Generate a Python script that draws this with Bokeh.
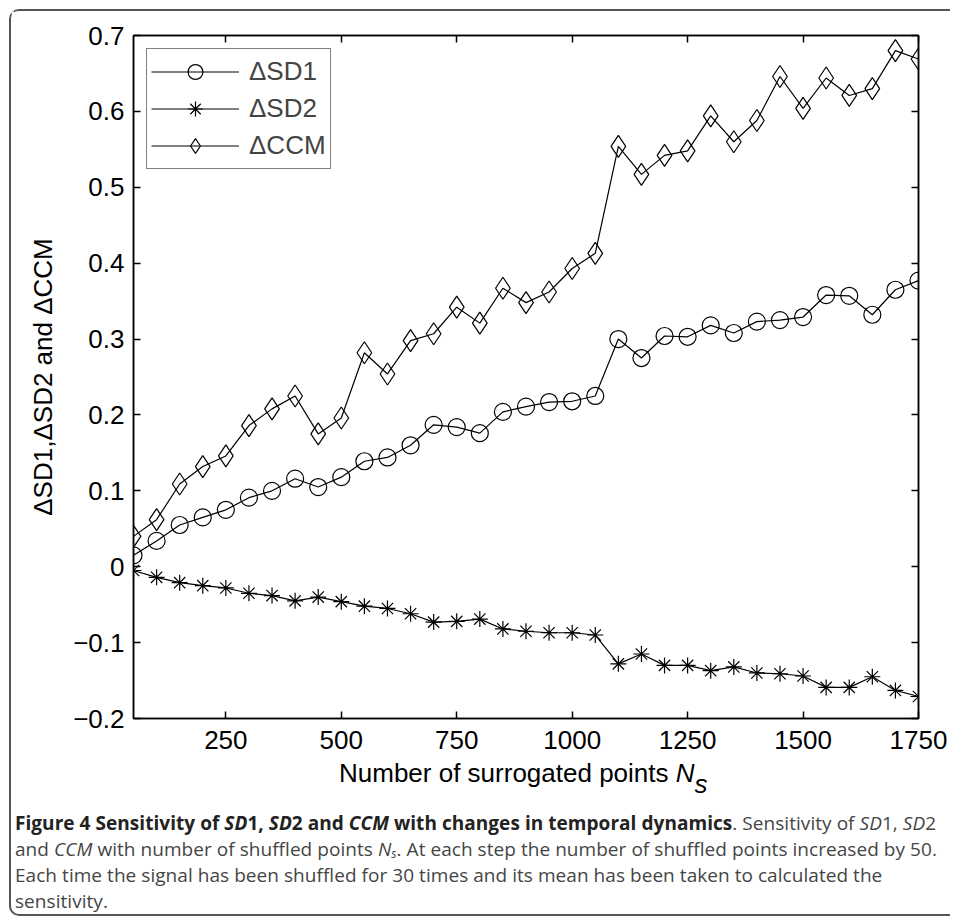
from bokeh.plotting import figure
from bokeh.models import (LinearAxis, FixedTicker, Range1d, Legend, LegendItem,
                          Div, CustomJSTickFormatter)
from bokeh.layouts import column
from bokeh.embed import file_html
from bokeh.resources import INLINE

# ---------------- data ----------------
n_points = [50, 100, 150, 200, 250, 300, 350, 400, 450, 500, 550, 600, 650, 700,
            750, 800, 850, 900, 950, 1000, 1050, 1100, 1150, 1200, 1250, 1300,
            1350, 1400, 1450, 1500, 1550, 1600, 1650, 1700, 1750]
d_sd1 = [0.015, 0.034, 0.055, 0.065, 0.075, 0.091, 0.100, 0.116, 0.105, 0.118,
         0.139, 0.144, 0.160, 0.187, 0.184, 0.176, 0.204, 0.211, 0.217, 0.218,
         0.225, 0.300, 0.275, 0.304, 0.303, 0.318, 0.308, 0.323, 0.325, 0.329,
         0.358, 0.357, 0.332, 0.365, 0.377]
d_sd2 = [-0.005, -0.014, -0.021, -0.025, -0.028, -0.035, -0.038, -0.045, -0.040,
         -0.046, -0.052, -0.055, -0.062, -0.073, -0.072, -0.069, -0.082, -0.085,
         -0.087, -0.087, -0.090, -0.128, -0.115, -0.130, -0.130, -0.137, -0.132,
         -0.140, -0.141, -0.144, -0.159, -0.159, -0.145, -0.163, -0.171]
d_ccm = [0.040, 0.062, 0.109, 0.132, 0.146, 0.186, 0.208, 0.225, 0.175, 0.196,
         0.282, 0.254, 0.298, 0.307, 0.342, 0.321, 0.367, 0.348, 0.362, 0.393,
         0.413, 0.554, 0.517, 0.542, 0.548, 0.594, 0.560, 0.588, 0.646, 0.604,
         0.644, 0.621, 0.630, 0.680, 0.669]
series_names = ["\u0394SD1", "\u0394SD2", "\u0394CCM"]

x_ticks = [250, 500, 750, 1000, 1250, 1500, 1750]
x_tick_labels = ["250", "500", "750", "1000", "1250", "1500", "1750"]
y_ticks = [-0.2, -0.1, 0.0, 0.1, 0.2, 0.3, 0.4, 0.5, 0.6, 0.7]
y_tick_labels = ["\u22120.2", "\u22120.1", "0", "0.1", "0.2", "0.3", "0.4", "0.5", "0.6", "0.7"]

y_label = "\u0394SD1,\u0394SD2 and \u0394CCM"
x_label_main = "Number of surrogated points"
x_label_sym = "N"
x_label_sub = "s"

FONT = "Liberation Sans"
FS = "26px"

# ---------------- figure ----------------
p = figure(frame_width=785, frame_height=683,
           min_border_left=122, min_border_top=24, min_border_right=32, min_border_bottom=40,
           x_range=Range1d(50, 1750), y_range=Range1d(-0.2, 0.7),
           output_backend="svg", toolbar_location=None)
p.grid.visible = False
p.outline_line_color = "black"
p.outline_line_width = 1.5
p.background_fill_color = "white"
p.border_fill_color = "white"

xax = p.xaxis[0]
yax = p.yaxis[0]
xax.ticker = FixedTicker(ticks=x_ticks)
xax.major_label_overrides = dict(zip(x_ticks, x_tick_labels))
yax.ticker = FixedTicker(ticks=y_ticks)
yax.major_label_overrides = dict(zip(y_ticks, y_tick_labels))
yax.axis_label = y_label

blank = CustomJSTickFormatter(code="return ''")
ax_top = LinearAxis(ticker=FixedTicker(ticks=x_ticks), formatter=blank)
ax_right = LinearAxis(ticker=FixedTicker(ticks=y_ticks), formatter=blank)
p.add_layout(ax_top, "above")
p.add_layout(ax_right, "right")

for ax in [xax, yax, ax_top, ax_right]:
    ax.axis_line_color = "black"
    ax.axis_line_width = 1.5
    ax.major_tick_line_color = "black"
    ax.major_tick_line_width = 1.5
    ax.major_tick_in = 7
    ax.major_tick_out = 0
    ax.minor_tick_line_color = None
    ax.major_label_text_font = FONT
    ax.major_label_text_font_size = FS
    ax.major_label_text_color = "black"
    ax.axis_label_text_font = FONT
    ax.axis_label_text_font_size = FS
    ax.axis_label_text_font_style = "normal"
    ax.axis_label_text_color = "black"

xax.major_label_standoff = 12
yax.major_label_standoff = 9
yax.axis_label_standoff = 12

# series
l1 = p.line(n_points, d_sd1, line_color="black", line_width=1.2)
m1 = p.scatter(n_points, d_sd1, marker="circle", size=17, fill_color=None,
               line_color="black", line_width=1.2)
l2 = p.line(n_points, d_sd2, line_color="black", line_width=1.2)
m2 = p.scatter(n_points, d_sd2, marker="asterisk", size=16,
               line_color="black", line_width=1.2)
l3 = p.line(n_points, d_ccm, line_color="black", line_width=1.2)
m3 = p.scatter(n_points, d_ccm, marker="diamond", size=22,
               fill_color=None, line_color="black", line_width=1.2)

legend = Legend(items=[LegendItem(label=series_names[0], renderers=[l1, m1]),
                       LegendItem(label=series_names[1], renderers=[l2, m2]),
                       LegendItem(label=series_names[2], renderers=[l3, m3])],
                location="top_left", margin=13, padding=4, spacing=0,
                glyph_height=37, glyph_width=88, label_height=37, label_standoff=10,
                label_text_font=FONT, label_text_font_size=FS,
                border_line_color="black", border_line_width=1.2,
                background_fill_color="white", background_fill_alpha=1.0)
p.add_layout(legend)

# x-axis title (italic N with subscript s) as HTML beneath the axis
xtitle_html = ('<div style="position:relative;top:2px;padding-left:328px;">' + x_label_main +
               ' <i>' + x_label_sym + '</i><span style="position:relative;top:11px;'
               'font-style:italic;">' + x_label_sub + '</span></div>')
xtitle = Div(text=xtitle_html, width=939, height=30, margin=0,
             styles={"font-family": "'Liberation Sans'", "font-size": "26px",
                     "line-height": "26px", "color": "black", "white-space": "nowrap"})

caption_html = (
    '<div style="padding:22px 0 0 4px;">'
    '<span style="font-weight:700;color:#222;">Figure 4 Sensitivity of <i>SD</i>1, '
    '<i>SD</i>2 and <i>CCM</i> with changes in temporal dynamics</span>. '
    'Sensitivity of <i>SD</i>1, <i>SD</i>2<br>'
    'and <i>CCM</i> with number of shuffled points <i>N<span style="font-size:12px;'
    'position:relative;top:2px;line-height:0;">s</span></i>. '
    'At each step the number of shuffled points increased by 50.<br>'
    'Each time the signal has been shuffled for 30 times and its mean has been taken '
    'to calculated the<br>'
    'sensitivity.</div>'
)
caption = Div(text=caption_html, width=939, height=126, margin=0,
              styles={"font-family": "'Open Sans'", "font-size": "19px",
                      "line-height": "26px", "color": "#454545",
                      "white-space": "nowrap", "letter-spacing": "0.05px"})

layout = column(p, xtitle, caption,
                styles={"margin-left": "9px", "margin-top": "9px",
                        "border-left": "2px solid #555", "border-top": "2px solid #555",
                        "border-bottom": "2px solid #555",
                        "border-top-left-radius": "10px",
                        "border-bottom-left-radius": "10px"})

open("out.html", "w").write(file_html(layout, INLINE))
